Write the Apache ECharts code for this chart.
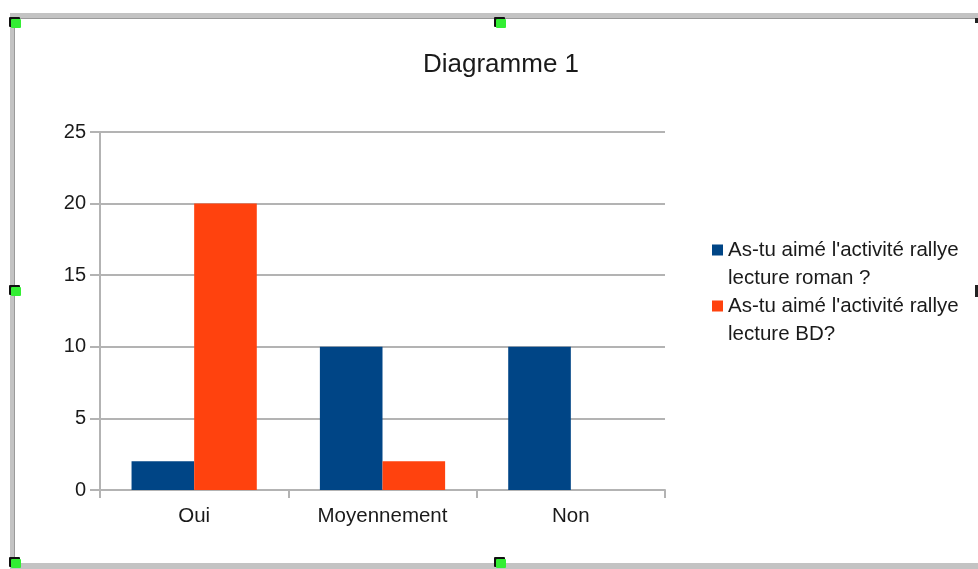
<!DOCTYPE html>
<html>
<head>
<meta charset="utf-8">
<script src="https://cdn.jsdelivr.net/npm/echarts@6/dist/echarts.min.js"></script>
<style>
html,body{margin:0;padding:0;background:#fff;}
#chart{width:978px;height:569px;}
</style>
</head>
<body>
<div id="chart"></div>
<script>
const categories = ['Oui', 'Moyennement', 'Non'];
const seriesNames = ["As-tu aimé l'activité rallye lecture roman ?", "As-tu aimé l'activité rallye lecture BD?"];
const romanValues = [2, 10, 10];
const bdValues = [20, 2, 0];
const yTicks = [0, 5, 10, 15, 20, 25];

const chart = echarts.init(document.getElementById('chart'));
const font = 'Liberation Sans, Arial, sans-serif';
const gray = '#b3b3b3';

function handle(x, y) {
  return [
    {type: 'rect', shape: {x: x - 1, y: y - 1, width: 11, height: 10, r: 1}, style: {fill: '#111'}, z: 10},
    {type: 'rect', shape: {x: x + 1, y: y + 1, width: 10, height: 9, r: 1}, style: {fill: '#33ee33'}, z: 11}
  ];
}

// legend icon: square aligned with the first text line of a two-line item
const legendIcon = 'path://M0,0L0.01,0L0,0.01Z M0,8.5H11V19.5H0Z M11,56L10.99,56L11,55.99Z';

chart.setOption({
  animation: false,
  color: ['#004586', '#ff420e'],
  title: {
    text: 'Diagramme 1',
    left: 496, top: 47, textAlign: 'center',
    textStyle: {fontFamily: font, fontSize: 26, fontWeight: 'normal', color: '#1a1a1a'}
  },
  legend: {
    orient: 'vertical',
    left: 712, top: 236, padding: 0,
    itemWidth: 11, itemHeight: 56, itemGap: 0,
    icon: legendIcon,
    data: seriesNames,
    formatter: n => n.replace(' rallye ', ' rallye\n'),
    textStyle: {fontFamily: font, fontSize: 20.5, color: '#1a1a1a', lineHeight: 28}
  },
  grid: {left: 100, top: 132, right: 313, bottom: 79},
  xAxis: {
    type: 'category',
    data: categories,
    axisLine: {lineStyle: {color: gray, width: 2}},
    axisTick: {show: true, length: 8, lineStyle: {color: gray, width: 2}},
    axisLabel: {fontFamily: font, fontSize: 20.5, color: '#1a1a1a', margin: 16}
  },
  yAxis: {
    type: 'value',
    min: yTicks[0], max: yTicks[yTicks.length - 1], interval: 5,
    axisLine: {show: true, lineStyle: {color: gray, width: 2}},
    axisTick: {show: true, length: 10, lineStyle: {color: gray, width: 2}},
    splitLine: {lineStyle: {color: gray, width: 2}},
    axisLabel: {fontFamily: font, fontSize: 20, color: '#1a1a1a', margin: 14}
  },
  series: [
    {name: seriesNames[0], type: 'bar', data: romanValues, barGap: '0%', barCategoryGap: '33.5%'},
    {name: seriesNames[1], type: 'bar', data: bdValues, barGap: '0%', barCategoryGap: '33.5%'}
  ],
  graphic: [
    {type: 'rect', shape: {x: 10, y: 13, width: 968, height: 6}, style: {fill: '#c3c3c3'}},
    {type: 'rect', shape: {x: 10, y: 18, width: 968, height: 1}, style: {fill: '#9a9a9a'}},
    {type: 'rect', shape: {x: 10, y: 13, width: 5, height: 556}, style: {fill: '#c3c3c3'}},
    {type: 'rect', shape: {x: 14, y: 18, width: 1, height: 546}, style: {fill: '#9a9a9a'}},
    {type: 'rect', shape: {x: 10, y: 563, width: 968, height: 6}, style: {fill: '#c3c3c3'}},
    {type: 'rect', shape: {x: 975, y: 18, width: 3, height: 5}, style: {fill: '#222'}},
    {type: 'rect', shape: {x: 975, y: 285, width: 3, height: 12}, style: {fill: '#222'}},
    ...handle(10, 18), ...handle(495, 18), ...handle(10, 286), ...handle(10, 558), ...handle(495, 558)
  ]
});
</script>
</body>
</html>
